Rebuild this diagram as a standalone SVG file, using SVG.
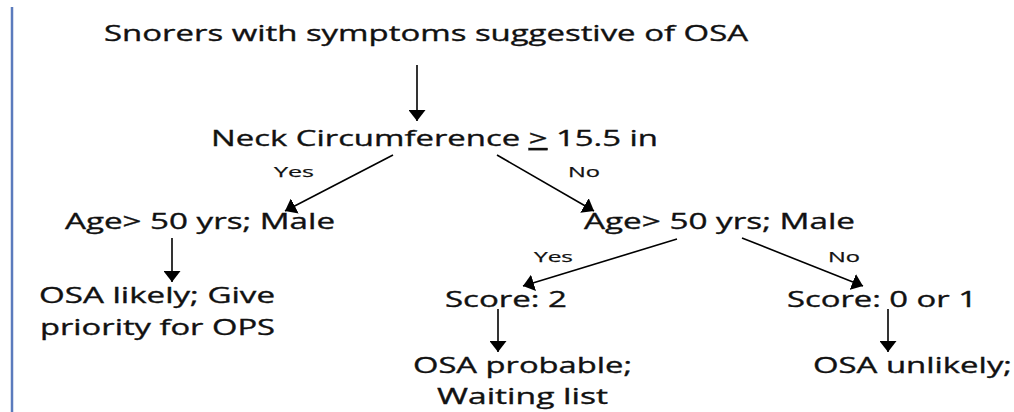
<svg xmlns="http://www.w3.org/2000/svg" width="1014" height="412" viewBox="0 0 1014 412">
<style>
.t{font-family:"Open Sans","Liberation Sans",sans-serif;font-size:21.5px;fill:#111;stroke:#111;stroke-width:0.35}
.l{font-family:"Open Sans","Liberation Sans",sans-serif;font-size:15px;fill:#111;stroke:#111;stroke-width:0.25}
.c{stroke:#000;stroke-width:1.6;fill:none}
</style>
<defs>
<marker id="ah" markerUnits="userSpaceOnUse" markerWidth="12" markerHeight="17" refX="11" refY="8.5" orient="auto" viewBox="0 0 12 17">
<path d="M0,0 L11,8.5 L0,17 z" fill="#000"/>
</marker>
</defs>
<rect width="1014" height="412" fill="#fff"/>
<line x1="12" y1="7" x2="12" y2="412" stroke="#5b7bbd" stroke-width="2.5"/>
<g id="connectors">
<line class="c" x1="417" y1="65" x2="417" y2="121" marker-end="url(#ah)"/>
<line class="c" x1="393" y1="155" x2="285" y2="211" marker-end="url(#ah)"/>
<line class="c" x1="497" y1="155" x2="594" y2="211" marker-end="url(#ah)"/>
<line class="c" x1="172" y1="238" x2="172" y2="282" marker-end="url(#ah)"/>
<line class="c" x1="677" y1="239" x2="523" y2="286" marker-end="url(#ah)"/>
<line class="c" x1="742" y1="238" x2="863" y2="286" marker-end="url(#ah)"/>
<line class="c" x1="498" y1="309" x2="498" y2="352" marker-end="url(#ah)"/>
<line class="c" x1="888" y1="309" x2="888" y2="352" marker-end="url(#ah)"/>
<text class="l" x="274" y="177" textLength="40" lengthAdjust="spacingAndGlyphs">Yes</text>
<text class="l" x="568" y="177" textLength="32" lengthAdjust="spacingAndGlyphs">No</text>
<text class="l" x="534" y="262" textLength="39" lengthAdjust="spacingAndGlyphs">Yes</text>
<text class="l" x="828" y="262" textLength="32" lengthAdjust="spacingAndGlyphs">No</text>
</g>
<g id="n1"><text class="t" x="104" y="41" textLength="644" lengthAdjust="spacingAndGlyphs">Snorers with symptoms suggestive of OSA</text></g>
<g id="n2"><text class="t" x="211" y="146" textLength="447" lengthAdjust="spacingAndGlyphs">Neck Circumference <tspan text-decoration="underline">&gt;</tspan> 15.5 in</text></g>
<g id="n3"><text class="t" x="65" y="229" textLength="270" lengthAdjust="spacingAndGlyphs">Age&gt; 50 yrs; Male</text></g>
<g id="n4"><text class="t" x="584" y="229" textLength="271" lengthAdjust="spacingAndGlyphs">Age&gt; 50 yrs; Male</text></g>
<g id="n5"><text class="t" x="39" y="303" textLength="236" lengthAdjust="spacingAndGlyphs">OSA likely; Give</text><text class="t" x="40" y="335" textLength="235" lengthAdjust="spacingAndGlyphs">priority for OPS</text></g>
<g id="n6"><text class="t" x="445" y="307" textLength="122" lengthAdjust="spacingAndGlyphs">Score: 2</text></g>
<g id="n7"><text class="t" x="787" y="307" textLength="190" lengthAdjust="spacingAndGlyphs">Score: 0 or 1</text></g>
<g id="n8"><text class="t" x="413" y="373" textLength="219" lengthAdjust="spacingAndGlyphs">OSA probable;</text><text class="t" x="437" y="404" textLength="171" lengthAdjust="spacingAndGlyphs">Waiting list</text></g>
<g id="n9"><text class="t" x="813" y="373" textLength="199" lengthAdjust="spacingAndGlyphs">OSA unlikely;</text></g>
</svg>
